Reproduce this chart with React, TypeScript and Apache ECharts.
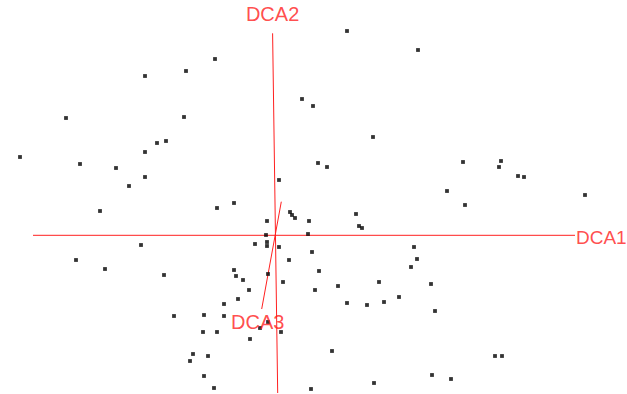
import React, { useEffect, useRef } from "react";
import * as echarts from "echarts";

// Site scores on the first two DCA axes
const siteDCA1 = [
  0.72, 1.43, -0.6, -0.89, -1.3, 0.27, 0.38, -2.09, -0.91, 0.98, -1.09, -1.18, -1.3, -2.55,
  1.88, 2.26, 2.24, 0.43, 0.52, -1.95, -1.59, 2.43, 2.49, -1.3, 0.04, -1.46, 1.72, 3.1,
  -0.41, 1.9, -0.58, -1.75, 0.15, 0.17, 0.2, 0.81, -0.08, 0.34, 0.84, 0.87, -0.09, 0.33,
  -0.2, -0.08, -0.08, 0.04, -1.34, 1.39, 0.37, 1.42, -1.99, 0.14, 1.36, -1.7, -0.41, 0.44,
  -0.07, -1.11, -0.39, -0.32, 0.08, 1.04, 1.56, 0.63, -0.26, 0.4, 1.24, -0.37, 1.09, 0.72,
  -0.51, 0.92, 1.6, -0.71, -1.01, -0.51, -0.07, -0.15, -0.72, -0.58, 0.06, -0.25, 0.57,
  -0.82, -0.67, 2.2, 2.27, -0.85, 1.57, -0.71, 1.76, 0.99, -0.61, 0.36,
];
const siteDCA2 = [
  2.045, 1.855, 1.765, 1.645, 1.595, 1.365, 1.295, 1.175, 1.185, 0.985, 0.945, 0.925, 0.835,
  0.785, 0.735, 0.745, 0.685, 0.725, 0.685, 0.715, 0.675, 0.595, 0.585, 0.585, 0.555, 0.495,
  0.445, 0.405, 0.325, 0.305, 0.275, 0.245, 0.235, 0.205, 0.175, 0.215, 0.145, 0.145, 0.095,
  0.075, 0.005, 0.015, -0.085, -0.065, -0.105, -0.115, -0.095, -0.115, -0.165, -0.235,
  -0.245, -0.245, -0.315, -0.335, -0.345, -0.355, -0.385, -0.395, -0.405, -0.445, -0.465,
  -0.465, -0.485, -0.505, -0.545, -0.545, -0.615, -0.635, -0.665, -0.675, -0.685, -0.695,
  -0.755, -0.795, -0.805, -0.805, -0.865, -0.925, -0.965, -0.965, -0.965, -1.035, -1.155,
  -1.185, -1.205, -1.205, -1.205, -1.255, -1.395, -1.405, -1.435, -1.475, -1.525, -1.535,
];

// Ordination axes drawn as lines through the origin: tail -> labelled head
const axisNames = ["DCA1", "DCA2", "DCA3"];
const axisTails = [
  [-2.42, 0.002],
  [0.027, -1.575],
  [0.063, 0.338],
];
const axisHeads = [
  [3.0, 0.002],
  [-0.024, 2.022],
  [-0.133, -0.735],
];
const labelSides = ["right", "top", "bottom"];
const labelGaps = [1, 9, 3];
const labelSizes = [19, 20, 20];
const labelShifts = [
  [0, 2],
  [0, 0],
  [-4, 0],
];

const AXIS_RED = "#ff2020";
const LABEL_FONT = "'Liberation Sans', Arial, sans-serif";

export default function App() {
  const ref = useRef<HTMLDivElement>(null);

  useEffect(() => {
    if (!ref.current) return;
    const chart = echarts.init(ref.current, null, { renderer: "svg" });

    const sites = siteDCA1.map((x, i) => [x, siteDCA2[i]]);

    const axisSeries = axisNames.map((name, i) => ({
      type: "line" as const,
      name,
      showSymbol: false,
      silent: true,
      z: 1,
      color: AXIS_RED,
      itemStyle: { color: AXIS_RED },
      lineStyle: { color: AXIS_RED, width: 1, opacity: 1 },
      data: [axisTails[i], axisHeads[i]],
    }));

    // Invisible points at each axis head carrying the axis name
    const axisLabelSeries = axisNames.map((name, i) => ({
      type: "scatter" as const,
      name: name + " label",
      silent: true,
      symbolSize: 0,
      z: 3,
      itemStyle: { color: AXIS_RED },
      label: {
        show: true,
        formatter: name,
        position: labelSides[i],
        distance: labelGaps[i],
        offset: labelShifts[i],
        color: AXIS_RED,
        fontSize: labelSizes[i],
        fontFamily: LABEL_FONT,
      },
      data: [axisHeads[i]],
    }));

    chart.setOption({
      animation: false,
      grid: { left: 0, right: 0, top: 0, bottom: 0 },
      xAxis: {
        type: "value",
        min: -2.75,
        max: 3.52,
        show: false,
      },
      yAxis: {
        type: "value",
        min: -1.585,
        max: 2.355,
        show: false,
      },
      series: [
        ...axisSeries,
        ...axisLabelSeries,
        {
          type: "scatter",
          name: "sites",
          symbol: "rect",
          symbolSize: 3.8,
          z: 2,
          itemStyle: { color: "#000" },
          data: sites,
        },
      ],
    });

    return () => chart.dispose();
  }, []);

  return (
    <div
      ref={ref}
      style={{ position: "absolute", left: 0, top: 0, width: 627, height: 394, background: "#fff" }}
    />
  );
}
